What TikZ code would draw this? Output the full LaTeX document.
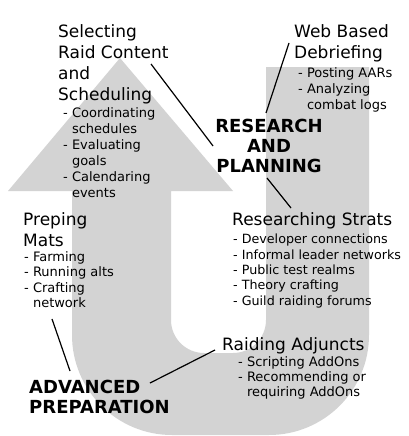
\documentclass[tikz,border=0pt]{standalone}
\usepackage{fontspec}
\setmainfont{DejaVu Sans}
\usetikzlibrary{calc}
\definecolor{ushape}{RGB}{211,211,211}
\begin{document}
\begin{tikzpicture}[x=1pt,y=-1pt,
  heading/.style={font=\fontsize{17}{21}\selectfont, align=left, inner sep=0pt, anchor=north west},
  points/.style={font=\fontsize{13}{16}\selectfont, align=left, inner sep=0pt, anchor=north west},
  stage/.style={font=\bfseries\fontsize{18}{20}\selectfont, inner sep=0pt},
  link/.style={draw=black, line width=1.2pt}]
\fill[white] (0,0) rectangle (409,436);
\useasboundingbox (0,0) rectangle (409,436);

% U-turn arrow: right arm down, round the bottom, up the left shaft to the head
\fill[ushape] (120,58) -- (233,191) -- (171,191) -- (171,320)
  arc[start angle=180, end angle=90, radius=33] -- (233,353)
  arc[start angle=90, end angle=0, radius=33] -- (266,67) -- (369,67) -- (369,335)
  arc[start angle=0, end angle=90, radius=100] -- (172,435)
  arc[start angle=90, end angle=180, radius=100] -- (72,191) -- (8,191) -- cycle;

% Texts
\node[heading] (selT) at (58,24) {Selecting\\Raid Content\\and\\Scheduling};
\node[points] (selP) at (63,107) {- Coordinating\\\phantom{- }schedules\\- Evaluating\\\phantom{- }goals\\- Calendaring\\\phantom{- }events};

\node[heading] (webT) at (294,24) {Web Based\\Debriefing};
\node[points] (webP) at (298,67) {- Posting AARs\\- Analyzing\\\phantom{- }combat logs};

\node[stage, align=center, anchor=north] (rp) at (269,119) {RESEARCH\\AND\\PLANNING};

\node[heading] (resT) at (232,212) {Researching Strats};
\node[points, font=\fontsize{12.7}{15.3}\selectfont] (resP) at (233,234) {- Developer connections\\- Informal leader networks\\- Public test realms\\- Theory crafting\\- Guild raiding forums};

\node[heading] (prepT) at (23,212) {Preping\\Mats};
\node[points, font=\fontsize{13}{15.5}\selectfont] (prepP) at (24,251) {- Farming\\- Running alts\\- Crafting\\\phantom{- }network};

\node[heading] (raidT) at (222,337) {Raiding Adjuncts};
\node[points, font=\fontsize{13}{15}\selectfont] (raidP) at (238,356) {- Scripting AddOns\\- Recommending or\\\phantom{- }requiring AddOns};

\node[stage, align=left, anchor=north west] (ap) at (29,380) {ADVANCED\\PREPARATION};

% Connectors
\coordinate (c1a) at ($(selT.north west)+(93,40)$);
\coordinate (c1b) at ($(rp.west)+(-2,0)$);
\coordinate (c2a) at ($(webT.north west)+(-5,19)$);
\coordinate (c2b) at ($(rp.north)+(-3,-6)$);
\coordinate (c3a) at ($(rp.south)+(-2,5)$);
\coordinate (c3b) at ($(resT.north west)+(59,-4)$);
\coordinate (c4a) at ($(prepP.south west)+(28,11)$);
\coordinate (c4b) at ($(ap.north west)+(41,-9)$);
\coordinate (c5a) at ($(ap.north west)+(121,3)$);
\coordinate (c5b) at ($(raidT.north west)+(-7,13)$);

\draw[link] (c1a) -- (c1b);
\draw[link] (c2a) -- (c2b);
\draw[link] (c3a) -- (c3b);
\draw[link] (c4a) -- (c4b);
\draw[link] (c5a) -- (c5b);
\end{tikzpicture}
\end{document}
